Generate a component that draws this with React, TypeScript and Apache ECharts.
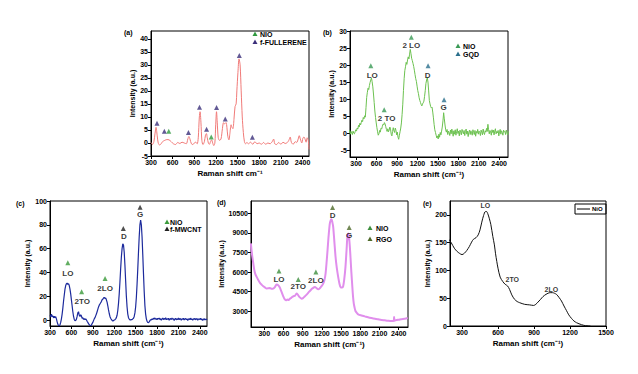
import React, { useEffect, useRef } from 'react';
import * as echarts from 'echarts';

const FONT = '"Liberation Sans", Arial, sans-serif';

// ---------- (a) NiO / f-fullerene ----------
const A_SPECTRUM: [number, number][] = [
  [300, 0.2], [320, -0.6], [340, 0.5], [355, 3.5], [370, 6], [385, 3], [400, 0], [420, -0.8], [440, -0.3],
  [460, 0.5], [490, 1.0], [520, 1.3], [550, 1.2], [580, 0.5], [610, -0.3], [640, -0.6], [670, 0.2], [700, -0.2],
  [730, 0.3], [760, 0], [790, -0.3], [810, 1.5], [825, 2.5], [840, 1.5], [860, -0.3], [880, -0.6], [900, 0],
  [920, 0.3], [940, -0.3], [955, 2], [970, 10], [980, 12], [992, 8], [1005, 1], [1020, -0.6], [1040, 0.5],
  [1055, 3], [1068, 3.6], [1080, 2], [1095, 0], [1110, -0.5], [1125, 0.5], [1140, 1.2], [1155, 0], [1170, -1],
  [1185, 0], [1197, 7], [1208, 12], [1218, 8], [1232, 2], [1250, 1], [1270, 1.5], [1290, 5.5], [1305, 7.8],
  [1320, 7.3], [1340, 7.8], [1352, 6], [1365, 2.5], [1380, 1.2], [1395, 4], [1410, 7], [1422, 6], [1435, 5.5],
  [1450, 9], [1465, 14], [1480, 15], [1490, 20], [1505, 27], [1520, 32.3], [1535, 30], [1550, 20], [1565, 10],
  [1580, 4], [1595, 0.5], [1610, -0.3], [1630, 0.2], [1650, -0.3], [1680, 0.3], [1710, -0.5], [1740, 0.5],
  [1770, -0.3], [1800, 0], [1830, -0.5], [1860, 0.2], [1890, -0.5], [1920, 0], [1950, -0.3], [1980, 0.5],
  [2000, 1.5], [2015, -0.3], [2040, -0.6], [2070, 0.2], [2100, -0.5], [2130, 0.3], [2160, -0.2], [2190, 0.2],
  [2210, 1], [2230, 2.3], [2245, 0.3], [2270, -0.5], [2300, 0.5], [2320, 0.2], [2340, 1.5], [2355, 2.8],
  [2370, 1.5], [2390, 0], [2405, 1.8], [2420, 2.3], [2435, 1.5], [2450, 0.3], [2465, 2], [2480, 1], [2490, -2.5],
];
const A_NIO_MARKS: [number, number][] = [[546, 4.5], [1135, 2.3]];
const A_FULLERENE_MARKS: [number, number][] = [
  [383, 7.6], [485, 4.5], [819, 4.0], [972, 13.7], [1070, 5.3], [1209, 13.6], [1329, 9.2], [1524, 33.6], [1705, 2.2],
];
const A_X_TICKS = [300, 600, 900, 1200, 1500, 1800, 2100, 2400];
const A_Y_TICKS = [-5, 0, 5, 10, 15, 20, 25, 30, 35, 40];

// ---------- (b) NiO / GQD ----------
const B_START = 185;
const B_STEP = 10;
const B_INTENSITY = [
  0.8, 0.2, 0.9, -0.3, 0.5, 0.1, -0.4, 0.6, 0.0, -0.2,
  0.4, 1.0, 0.6, 1.5, 1.2, 2.3, 1.8, 2.9, 2.4, 3.1,
  3.8, 3.4, 4.6, 4.2, 5.1, 4.7, 7.5, 10.5, 12.0, 13.2,
  12.8, 14.0, 14.9, 15.6, 16.2, 15.1, 13.6, 11.5, 9.0, 6.5,
  4.6, 3.0, 1.6, 0.4, -0.6, -0.2, 0.8, 0.3, 1.4, 1.2,
  2.0, 2.6, 2.4, 3.1, 2.7, 1.9, 1.1, 0.5, 1.3, 0.4,
  0.9, 1.8, 1.2, -0.3, -0.8, 0.5, 1.6, 0.7, 0.2, 1.5,
  0.8, -0.5, 0.3, -1.2, -1.8, -0.6, 0.4, 1.5, 3.0, 5.5,
  8.5, 12.5, 16.0, 18.4, 19.5, 20.8, 20.2, 21.5, 22.4, 21.8,
  23.2, 24.6, 23.4, 22.0, 21.3, 20.5, 19.6, 18.5, 17.2, 16.0,
  15.2, 13.8, 12.5, 11.6, 10.4, 9.6, 9.0, 8.4, 8.0, 8.6,
  8.9, 9.4, 10.8, 12.5, 14.6, 15.6, 16.3, 15.0, 12.4, 9.6,
  8.6, 7.8, 7.4, 7.6, 6.2, 4.5, 2.6, 1.0, 0.2, -0.6,
  -1.4, -0.8, -1.7, -0.3, -1.2, 0.2, -0.5, 0.6, 1.8, 3.6,
  6.0, 4.2, 2.4, 1.0, 0.3, 1.1, -0.4, 0.6, 0.2, -0.7,
  0.9, -0.2, 1.2, 0.3, -0.9, 0.7, -0.3, 1.0, -0.6, 0.4,
  1.3, -0.1, 0.6, -0.8, 0.9, 0.2, -0.5, 1.1, 0.4, -0.2,
  0.8, -0.7, 0.5, 1.2, -0.3, 0.6, -1.0, 0.3, 0.9, -0.4,
  0.7, 0.1, -0.6, 1.0, 0.2, -0.4, 0.8, -0.9, 0.5, 0.0,
  1.1, -0.3, 0.6, 0.2, -0.7, 0.9, 0.3, -0.5, 1.2, 0.1,
  -0.4, 0.7, 0.3, 1.4, 0.5, 2.6, 1.0, -0.2, 0.8, 0.4,
  -0.6, 1.0, 0.2, 0.9, -0.5, 0.6, 1.3, -0.2, 0.5, 0.1,
  0.8, -0.8, 0.4, 1.1, -0.3, 0.7, 0.2, -0.6, 0.9, 0.3,
  0.5, -0.4, 0.9, 0.1, -0.5, 0.6,
];
const B_NIO_MARKS: [number, number][] = [[516, 19.8], [712, 6.9], [1110, 28.2]];
const B_GQD_MARKS: [number, number][] = [[1356, 19.8], [1591, 9.8]];
const B_PEAK_NAMES = ['LO', '2 TO', '2 LO', 'D', 'G'];
const B_PEAK_AT: [number, number][] = [[536, 16.9], [747, 4.4], [1110, 25.8], [1351, 16.9], [1586, 7.6]];
const B_X_TICKS = [300, 600, 900, 1200, 1500, 1800, 2100, 2400];
const B_Y_TICKS = [-5, 0, 5, 10, 15, 20, 25, 30];

// ---------- (c) NiO / f-MWCNT ----------
const C_START = 300;
const C_STEP = 10;
const C_INTENSITY = [
  4, 2.5, 5, 3, 3.5, 1.8, 3.2, 2, 2.8, 1,
  -1.5, -3.5, -4.5, -4.8, -4, -2, 1, 5, 10, 16,
  21, 26, 29, 30.5, 31, 30, 30.5, 29, 26, 22,
  17, 12, 7, 3, 0.5, -0.5, -0.3, 0.5, 3, 6,
  7, 4, 3, 4.5, 3.5, 1.5, 2, 0.5, 1.2, 0.3,
  1, 0.2, -1, -2, -3, -4, -4.5, -4.8, -4.3, -3,
  -2, -0.5, 1, 2, 3.5, 5, 7, 9, 11, 12.5,
  13.5, 14.5, 15.5, 17, 17.5, 18.5, 19, 18.2, 18.6, 17,
  15, 12, 8.5, 5.5, 3, 1.5, 0.5, -0.3, -0.8, -0.5,
  0, 0.3, 1, 2, 4, 8, 14, 22, 32, 43,
  53, 60, 64, 63, 57, 46, 33, 20, 11, 5,
  2, 0.8, 0.2, 0, 0.5, 0.3, 1, 1.5, 3, 6,
  11, 19, 30, 43, 57, 70, 80, 84, 80, 70,
  55, 39, 24, 12, 5, 1, -1, -2, -2.2, -1.5,
  -0.5, 0.3, 0, 1, 0.5, 1.5, 0.8, 1.8, 0.6, 1.2,
  0.2, 1.4, 0.9, 1.7, 0.5, 1.1, -0.2, 0.9, 1.6, 0.4,
  1.3, 0.7, 1.9, 0.3, 1.0, 0.6, 1.5, -0.1, 0.8, 1.2,
  0.4, 1.6, 0.7, 1.1, -0.3, 0.9, 1.4, 0.2, 1.0, 0.5,
  1.7, 0.3, 1.2, 0.8, -0.2, 1.1, 0.6, 1.5, 0.1, 0.9,
  1.3, 0.4, 1.0, -0.4, 0.7, 1.2, 0.3, 1.6, 0.5, 0.9,
  -0.1, 1.1, 0.6, 1.4, 0.2, 0.8, 1.3, -0.2, 0.7, 1.0,
  0.4, 1.5, 0.2, 0.9, -0.3, 0.6, 1.2, 0.1, 0.8, 0.3,
  1.0,
];
const C_NIO_MARKS: [number, number][] = [[550, 48.2], [743, 23.8], [1072, 35]];
const C_MWCNT_MARKS: [number, number][] = [[1327, 77], [1562, 94.7]];
const C_PEAK_NAMES = ['LO', '2TO', '2LO', 'D', 'G'];
const C_PEAK_AT: [number, number][] = [[550, 38.7], [752, 15.4], [1072, 26.6], [1336, 70], [1562, 88.8]];
const C_X_TICKS = [300, 600, 900, 1200, 1500, 1800, 2100, 2400];
const C_Y_TICKS = [0, 20, 40, 60, 80, 100];

// ---------- (d) NiO / RGO ----------
const D_SPECTRUM: [number, number][] = [
  [90, 8200], [100, 7700], [113, 7172], [130, 6600], [144, 6150], [160, 5850], [180, 5640], [205, 5400],
  [232, 5180], [260, 5030], [284, 4920], [310, 4830], [336, 4740], [360, 4770], [388, 4790], [415, 4730],
  [440, 4740], [465, 4850], [492, 5047], [518, 5000], [540, 4850], [560, 4612], [580, 4350], [596, 4152],
  [615, 3950], [638, 3845], [660, 3900], [680, 3860], [700, 3973], [725, 4050], [752, 4152], [780, 4200],
  [804, 4357], [820, 4300], [841, 4152], [860, 4050], [882, 3973], [905, 4010], [934, 4152], [965, 4300],
  [997, 4485], [1020, 4600], [1049, 4740], [1070, 4820], [1090, 4869], [1115, 4780], [1142, 4690],
  [1165, 4760], [1184, 4869], [1205, 5000], [1220, 5125], [1240, 5400], [1257, 5893], [1272, 6700],
  [1288, 7685], [1305, 8800], [1324, 9733], [1340, 10000], [1350, 10050], [1362, 9850], [1376, 9476],
  [1395, 8300], [1413, 7172], [1433, 6300], [1454, 5637], [1475, 5100], [1496, 4817], [1515, 4820],
  [1532, 4920], [1550, 5500], [1568, 6405], [1585, 7700], [1600, 8836], [1612, 8964], [1625, 8600],
  [1637, 7900], [1647, 7100], [1660, 6000], [1672, 5125], [1685, 4200], [1698, 3589], [1712, 3250],
  [1724, 3026], [1745, 2880], [1766, 2770], [1820, 2680], [1870, 2616], [1920, 2550], [1974, 2488],
  [2030, 2430], [2078, 2386], [2130, 2340], [2182, 2309], [2230, 2280], [2286, 2258], [2320, 2270],
  [2328, 2560], [2336, 2280], [2364, 2330], [2400, 2360], [2440, 2400], [2494, 2437], [2540, 2490],
];
const D_NIO_MARKS: [number, number][] = [[529, 6097], [830, 5432], [1106, 6020]];
const D_RGO_MARKS: [number, number][] = [[1366, 10960], [1626, 9425]];
const D_PEAK_NAMES = ['LO', '2TO', '2LO', 'D', 'G'];
const D_PEAK_AT: [number, number][] = [[529, 5432], [830, 4869], [1106, 5381], [1366, 10372], [1626, 8836]];
const D_X_TICKS = [300, 600, 900, 1200, 1500, 1800, 2100, 2400];
const D_Y_TICKS = [3000, 4500, 6000, 7500, 9000, 10500];

// ---------- (e) NiO ----------
const E_SPECTRUM: [number, number][] = [
  [190, 156], [210, 150], [236, 140], [260, 134], [278, 131], [300, 128.5], [320, 131], [340, 136],
  [361, 143], [380, 151], [395, 156], [417, 159], [435, 164], [450, 173], [465, 187], [480, 199],
  [495, 206], [505, 206], [515, 202], [527, 194], [540, 183], [557, 161], [570, 146], [579, 131],
  [590, 116], [600, 104], [618, 88], [640, 80], [660, 75], [680, 72], [696, 66], [715, 56], [738, 48],
  [760, 44], [780, 42], [822, 39], [864, 38], [897, 37], [915, 39], [933, 43], [955, 48], [975, 53],
  [1000, 57], [1017, 59], [1035, 60], [1054, 60], [1070, 59], [1087, 57], [1110, 51], [1129, 45],
  [1150, 36], [1171, 27.6], [1190, 20], [1212, 13.8], [1233, 9], [1254, 6], [1275, 4], [1296, 2.4],
  [1315, 1.2], [1330, 0.6], [1350, 0.2], [1370, 0],
];
const E_PEAK_NAMES = ['LO', '2TO', '2LO'];
const E_PEAK_AT: [number, number][] = [[495, 216.8], [719, 82.9], [1045, 66]];
const E_X_TICKS = [300, 600, 900, 1200, 1500];
const E_Y_TICKS = [0, 50, 100, 150, 200];

const toPairs = (start: number, step: number, ys: number[]) => ys.map((y, i) => [start + i * step, y]);
const plain = (v: number) => String(v);

function xAx(gi: number, min: number, max: number, ticks: number[], name: string) {
  return {
    type: 'value', gridIndex: gi, min, max, name, nameLocation: 'middle', nameGap: 13,
    nameTextStyle: { fontSize: 8, fontWeight: 'bold', fontFamily: FONT, color: '#000' },
    axisLine: { show: true, onZero: false, lineStyle: { color: '#000', width: 1 } },
    axisTick: { show: true, customValues: ticks, length: 3, lineStyle: { color: '#000' } },
    axisLabel: { customValues: ticks, formatter: plain, fontSize: 7, fontWeight: 'bold', fontFamily: FONT, color: '#000', margin: 3 },
    splitLine: { show: false },
  };
}
function yAx(gi: number, min: number, max: number, ticks: number[], gap: number) {
  return {
    type: 'value', gridIndex: gi, min, max, name: 'Intensity (a.u.)', nameLocation: 'middle', nameGap: gap,
    nameTextStyle: { fontSize: 7, fontWeight: 'bold', fontFamily: FONT, color: '#000' },
    axisLine: { show: true, onZero: false, lineStyle: { color: '#000', width: 1 } },
    axisTick: { show: true, customValues: ticks, length: 3, lineStyle: { color: '#000' } },
    axisLabel: { customValues: ticks, formatter: plain, fontSize: 7, fontWeight: 'bold', fontFamily: FONT, color: '#000', margin: 3 },
    splitLine: { show: false },
  };
}
function lineS(gi: number, data: any[], color: string, width: number, smooth: number | boolean) {
  return {
    type: 'line', xAxisIndex: gi, yAxisIndex: gi, data, showSymbol: false, symbol: 'none', smooth,
    lineStyle: { color, width }, silent: true, z: 2,
  };
}
function markS(gi: number, data: [number, number][], color: string) {
  return {
    type: 'scatter', xAxisIndex: gi, yAxisIndex: gi, data, symbol: 'triangle', symbolSize: [5, 5],
    itemStyle: { color }, silent: true, z: 3,
  };
}
function labelS(gi: number, names: string[], at: [number, number][], size: number) {
  return {
    type: 'scatter', xAxisIndex: gi, yAxisIndex: gi, symbolSize: 1,
    data: names.map((n, i) => ({ name: n, value: at[i] })),
    itemStyle: { color: 'rgba(0,0,0,0)' }, silent: true, z: 4,
    label: { show: true, position: 'inside', formatter: '{b}', fontSize: size, fontWeight: 'bold', fontFamily: FONT, color: '#000' },
  };
}
const tri = (x: number, y: number, color: string) => ({
  type: 'polygon', shape: { points: [[x, y - 2.5], [x + 2.5, y + 2], [x - 2.5, y + 2]] }, style: { fill: color },
});
const txt = (x: number, y: number, text: string, size = 7) => ({
  type: 'text', x, y,
  style: { text, fontSize: size, fontWeight: 'bold', fontFamily: FONT, fill: '#000', align: 'left', verticalAlign: 'middle' },
});

export default function App() {
  const ref = useRef<HTMLDivElement>(null);
  useEffect(() => {
    if (!ref.current) return;
    const chart = echarts.init(ref.current, undefined, { renderer: 'svg' });
    const grid = (left: number, top: number, width: number, height: number) => ({
      left, top, width, height, show: true, borderColor: '#000', borderWidth: 1, backgroundColor: 'transparent',
    });
    chart.setOption({
      animation: false,
      backgroundColor: '#fff',
      grid: [
        grid(151, 31, 158, 125),
        grid(350, 31, 158, 126),
        grid(50, 201, 157, 125),
        grid(251, 201, 157, 126),
        grid(450, 201, 156, 125),
      ],
      xAxis: [
        xAx(0, 300, 2490, A_X_TICKS, 'Raman shift cm⁻¹'),
        xAx(1, 210, 2530, B_X_TICKS, 'Raman shift (cm⁻¹)'),
        xAx(2, 300, 2500, C_X_TICKS, 'Raman shift (cm⁻¹)'),
        xAx(3, 92, 2545, D_X_TICKS, 'Raman shift (cm⁻¹)'),
        xAx(4, 200, 1500, E_X_TICKS, 'Raman shift (cm⁻¹)'),
      ],
      yAxis: [
        yAx(0, -5, 43, A_Y_TICKS, 12),
        yAx(1, -7, 30, B_Y_TICKS, 14),
        yAx(2, -5, 100, C_Y_TICKS, 18),
        yAx(3, 1800, 11450, D_Y_TICKS, 25),
        yAx(4, 0, 225, E_Y_TICKS, 16),
      ],
      series: [
        lineS(0, A_SPECTRUM, '#f07a78', 1, 0.3),
        markS(0, A_FULLERENE_MARKS, '#3b2f7a'),
        markS(0, A_NIO_MARKS, '#2f9a3e'),
        lineS(1, toPairs(B_START, B_STEP, B_INTENSITY), '#6cc150', 1, false),
        markS(1, B_NIO_MARKS, '#3a9a55'),
        markS(1, B_GQD_MARKS, '#2a6f8c'),
        labelS(1, B_PEAK_NAMES, B_PEAK_AT, 8),
        lineS(2, toPairs(C_START, C_STEP, C_INTENSITY), '#1c2a9c', 1.2, false),
        markS(2, C_NIO_MARKS, '#3a9a3a'),
        markS(2, C_MWCNT_MARKS, '#222'),
        labelS(2, C_PEAK_NAMES, C_PEAK_AT, 8),
        lineS(3, D_SPECTRUM, '#e08eec', 2, 0.3),
        markS(3, D_NIO_MARKS, '#3d8f3d'),
        markS(3, D_RGO_MARKS, '#4f6a2a'),
        labelS(3, D_PEAK_NAMES, D_PEAK_AT, 8),
        lineS(4, E_SPECTRUM, '#111', 1, 0.3),
        labelS(4, E_PEAK_NAMES, E_PEAK_AT, 7),
      ],
      graphic: [
        txt(124, 32, '(a)'),
        txt(323, 32, '(b)'),
        txt(16, 203, '(c)'),
        txt(217, 202, '(d)'),
        txt(423, 203, '(e)'),
        tri(255, 34, '#2f9a3e'), txt(260, 34, 'NIO'),
        tri(255, 42, '#3b2f7a'), txt(260, 42, 'f-FULLERENE'),
        tri(458, 46, '#3a9a55'), txt(463, 46, 'NiO'),
        tri(458, 54, '#2a6f8c'), txt(463, 54, 'GQD'),
        tri(167, 222, '#3a9a3a'), txt(170, 222, 'NiO'),
        tri(167, 229, '#222'), txt(170, 229, 'f-MWCNT'),
        tri(370, 228, '#3d8f3d'), txt(376, 228, 'NIO'),
        tri(370, 239, '#4f6a2a'), txt(376, 239, 'RGO'),
        { type: 'rect', shape: { x: 575, y: 204, width: 31, height: 10 }, style: { fill: 'none', stroke: '#000', lineWidth: 1 } },
        { type: 'line', shape: { x1: 577, y1: 209, x2: 590, y2: 209 }, style: { stroke: '#000', lineWidth: 1 } },
        txt(592, 209, 'NiO', 6),
      ],
    });
    return () => chart.dispose();
  }, []);
  return <div ref={ref} style={{ position: 'fixed', left: 0, top: 0, width: 638, height: 374, background: '#fff' }} />;
}
